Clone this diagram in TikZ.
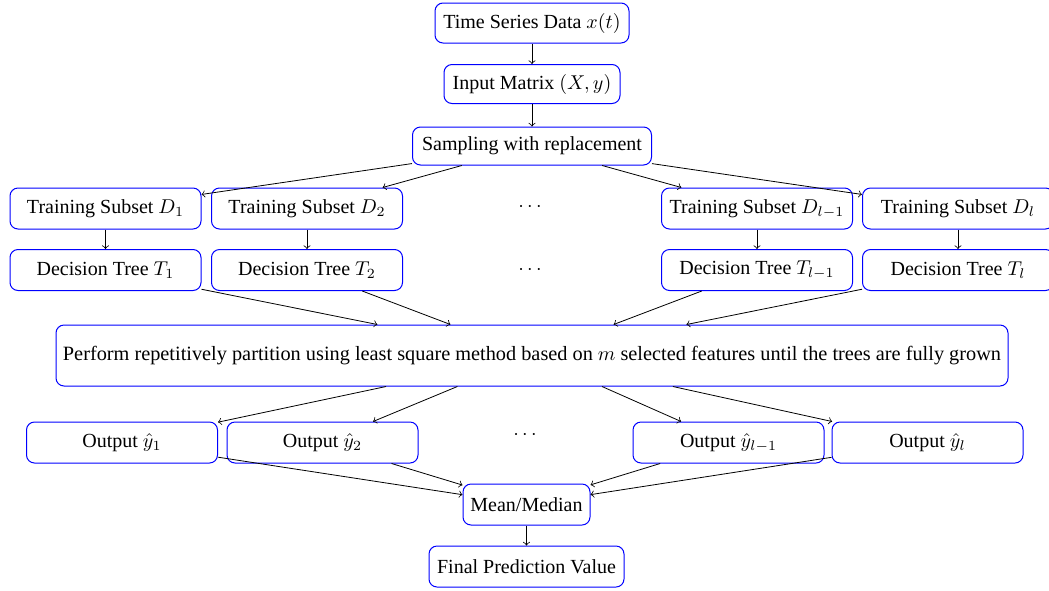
\documentclass[tikz,border=0pt]{standalone}
\usepackage{fontspec}
\setmainfont{Liberation Serif}
\begin{document}
\begin{tikzpicture}[x=0.5pt,y=-0.5pt,
  box/.style={draw=blue, line width=0.5pt, rounded corners=4pt, align=center,
              inner sep=2pt, font=\fontsize{10}{12}\selectfont},
  wbox/.style={box, minimum width=95.5pt, minimum height=20.5pt},
  dotsnode/.style={inner sep=0pt, font=\fontsize{10}{12}\selectfont},
  arr/.style={->, line width=0.4pt}]
\useasboundingbox (0,0) rectangle (1049,590);

% top chain
\node[box, minimum width=97pt, minimum height=20pt] (ts) at (532,23) {Time Series Data $x(t)$};
\node[box, minimum width=88pt, minimum height=19.5pt] (im) at (532,84) {Input Matrix $(X,y)$};
\node[box, minimum width=119.5pt, minimum height=19pt] (samp) at (532,146) {Sampling with replacement};

% bootstrap subsets
\node[wbox] (d1) at (105.5,208.5) {Training Subset $D_1$};
\node[wbox] (d2) at (307,208.5) {Training Subset $D_2$};
\node[dotsnode] (dd) at (530,207) {$\cdots$};
\node[wbox] (dl1) at (757,208.5) {Training Subset $D_{l-1}$};
\node[wbox] (dl) at (958,208.5) {Training Subset $D_l$};

% trees
\node[wbox] (t1) at (105.5,270) {Decision Tree $T_1$};
\node[wbox] (t2) at (307,270) {Decision Tree $T_2$};
\node[dotsnode] (td) at (530,270) {$\cdots$};
\node[wbox] (tl1) at (757,270) {Decision Tree $T_{l-1}$};
\node[wbox] (tl) at (958,270) {Decision Tree $T_l$};

% partition step
\node[box, minimum width=476pt, minimum height=30.5pt, font=\fontsize{10.15}{12}\selectfont] (part) at (532,355.5)
  {Perform repetitively partition using least square method based on $m$ selected features until the trees are fully grown};

% outputs
\node[wbox] (o1) at (122,442.5) {Output $\hat{y}_1$};
\node[wbox] (o2) at (322.5,442.5) {Output $\hat{y}_2$};
\node[dotsnode] (od) at (525,435) {$\cdots$};
\node[wbox] (ol1) at (728.5,442.5) {Output $\hat{y}_{l-1}$};
\node[wbox] (ol) at (927.5,442.5) {Output $\hat{y}_l$};

% aggregation
\node[box, minimum width=63.5pt, minimum height=20.5pt] (mm) at (526.5,504.5) {Mean/Median};
\node[box, minimum width=97.5pt, minimum height=20.5pt] (fp) at (526.5,566.5) {Final Prediction Value};

% connectors
\draw[arr] (ts) -- (im);
\draw[arr] (im) -- (samp);
\foreach \n in {d1,d2,dl1,dl} \draw[arr] (samp) -- (\n);
\draw[arr] (d1) -- (t1);
\draw[arr] (d2) -- (t2);
\draw[arr] (dl1) -- (tl1);
\draw[arr] (dl) -- (tl);
\foreach \n in {t1,t2,tl1,tl} \draw[arr] (\n) -- (part);
\foreach \n in {o1,o2,ol1,ol} \draw[arr] (part) -- (\n);
\foreach \n in {o1,o2,ol1,ol} \draw[arr] (\n) -- (mm);
\draw[arr] (mm) -- (fp);
\end{tikzpicture}
\end{document}
